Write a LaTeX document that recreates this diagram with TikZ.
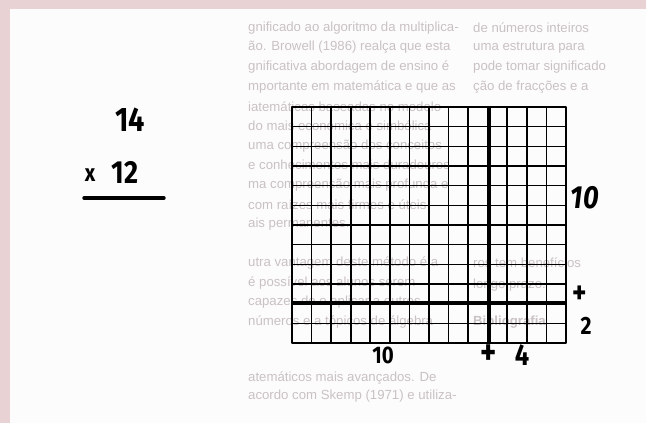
\documentclass[tikz,border=0pt]{standalone}
\usepackage{fontspec}
\setmainfont{Liberation Sans}
\newfontfamily\hand{Fira Sans}
\definecolor{paper}{HTML}{FDFCFC}
\definecolor{pinkband}{HTML}{E8D2D4}
\definecolor{ghost}{HTML}{C9C1C3}
\tikzset{
  ghosttext/.style={anchor=west, inner sep=0pt, text=ghost, font=\fontsize{13.2}{15}\selectfont},
  ghostbold/.style={ghosttext, font=\bfseries\fontsize{13.2}{15}\selectfont},
  handlabel/.style={inner sep=0pt, text=black, font=\hand\bfseries\fontsize{#1}{#1}\selectfont, xscale=0.85},
  handlabel/.default=28,
  thinline/.style={line width=1.6pt, black},
  borderline/.style={line width=2.9pt, black, line join=round},
  divline/.style={line width=4.5pt, black},
  underline/.style={line width=3.4pt, black, line cap=round}
}
\begin{document}
\begin{tikzpicture}[x=1pt,y=-1pt]
\useasboundingbox (0,0) rectangle (646,423);
\fill[paper] (0,0) rectangle (646,423);
\fill[pinkband] (0,0) rectangle (646,9);
\fill[pinkband] (0,0) rectangle (10,423);
\begin{scope}
\clip (10,9) rectangle (646,423);
% faint page text, column A
\node[ghosttext] (a0) at (248,28.0) {gnificado ao algoritmo da multiplica-};
\node[ghosttext] (a1) at (248,47.6) {ão. Browell (1986) realça que esta};
\node[ghosttext] (a2) at (248,67.2) {gnificativa abordagem de ensino é};
\node[ghosttext] (a3) at (248,86.8) {mportante em matemática e que as};
\node[ghosttext] (a4) at (248,106.4) {iatemáticas baseadas no modelo};
\node[ghosttext] (a5) at (248,126.0) {do mais económica e simbólica};
\node[ghosttext] (a6) at (248,145.6) {uma compreensão dos conceitos};
\node[ghosttext] (a7) at (248,165.2) {e conhecimentos mais duradouros};
\node[ghosttext] (a8) at (248,184.8) {ma compreensão mais profunda e};
\node[ghosttext] (a9) at (248,204.4) {com raízes mais firmes e úteis};
\node[ghosttext] (a10) at (248,224.0) {ais permanentes.};
\node[ghosttext] (a12) at (248,263.2) {utra vantagem deste método é a};
\node[ghosttext] (a13) at (248,282.8) {é possível aos alunos serem};
\node[ghosttext] (a14) at (248,302.4) {capazes de o aplicar a outros};
\node[ghosttext] (a15) at (248,322.0) {números e a tópicos de álgebra};
\node[ghosttext] (a17) at (248,378.0) {atemáticos mais avançados. De};
\node[ghosttext] (a18) at (248,396.0) {acordo com Skemp (1971) e utiliza-};
% faint page text, column B
\node[ghosttext] (b0) at (473,28.0) {de números inteiros};
\node[ghosttext] (b1) at (473,47.6) {uma estrutura para};
\node[ghosttext] (b2) at (473,67.2) {pode tomar significado};
\node[ghosttext] (b3) at (473,86.8) {ção de fracções e a};
\node[ghosttext] (b12) at (473,263.2) {ros tem benefícios};
\node[ghosttext] (b13) at (473,285.0) {longo prazo.};
\node[ghostbold] (b15) at (473,322.0) {Bibliografia};
\end{scope}
% the grid
\coordinate (gridNW) at (292,107);
\coordinate (gridSE) at (566,343);
\foreach \i in {1,...,13}
  \draw[thinline] ({292+\i*19.57},107) -- ({292+\i*19.57},343);
\foreach \j in {1,...,11}
  \draw[thinline] (292,{107+\j*19.67}) -- (566,{107+\j*19.67});
\draw[borderline] (gridNW) rectangle (gridSE);
\coordinate (vTop) at (489,107);
\coordinate (vBot) at (489,343);
\coordinate (hLeft) at (292,303);
\coordinate (hRight) at (566,303);
\draw[divline] (vTop) -- (vBot);
\draw[divline] (hLeft) -- (hRight);
% the sum at left
\node[handlabel=34] (fourteen) at (130,120) {14};
\node[handlabel=24] (times) at (90,175) {x};
\node[handlabel=32] (twelve) at (125,172) {12};
\coordinate (ulL) at (84,198);
\coordinate (ulR) at (164,198);
\draw[underline] (ulL) -- (ulR);
% labels of the grid
\node[handlabel=32, font=\hand\bfseries\itshape\fontsize{32}{32}\selectfont] (ten) at (585,198) {10};
\node[handlabel=32] (plusR) at (580,295) {+};
\node[handlabel=25] (two) at (586,326) {2};
\node[handlabel=24] (tenB) at (383,355) {10};
\node[handlabel=36] (plusB) at (489,355) {+};
\node[handlabel=30] (four) at (522,355) {4};
\end{tikzpicture}
\end{document}
